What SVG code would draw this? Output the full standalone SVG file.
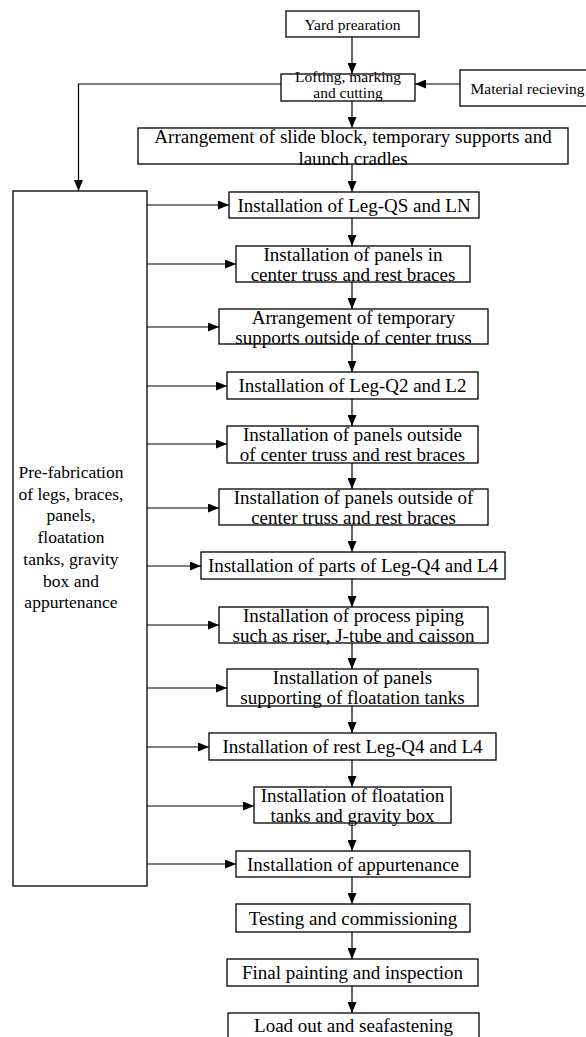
<svg xmlns="http://www.w3.org/2000/svg" width="586" height="1037" viewBox="0 0 586 1037">
<style>
.b{fill:#fff;stroke:#000;stroke-width:1.3}
.t{font-family:"Liberation Serif","Times New Roman",serif;font-size:19px;fill:#000;text-anchor:middle}
.s{font-size:15.5px}
.p{font-size:17.5px}
.c{fill:none;stroke:#000;stroke-width:1.2;marker-end:url(#ah)}
</style>
<defs>
<marker id="ah" markerUnits="userSpaceOnUse" markerWidth="11" markerHeight="9" refX="11" refY="4.5" orient="auto">
<path d="M0,0 L11,4.5 L0,9 z" fill="#000"/>
</marker>
</defs>
<rect width="586" height="1037" fill="#fff"/>
<g id="connectors">
<path class="c" d="M352,37 V74"/>
<path class="c" d="M460,84 H415"/>
<path class="c" d="M281,84 H78.5 V191"/>
<path class="c" d="M352,101 V128"/>
<path class="c" d="M352,164 V192"/>
<path class="c" d="M352,218 V246"/>
<path class="c" d="M352,282 V309"/>
<path class="c" d="M352,344 V372"/>
<path class="c" d="M352,399 V426"/>
<path class="c" d="M352,463 V489"/>
<path class="c" d="M352,525 V552"/>
<path class="c" d="M352,579 V607"/>
<path class="c" d="M352,643 V669"/>
<path class="c" d="M352,706 V733"/>
<path class="c" d="M352,760 V787"/>
<path class="c" d="M352,823 V851"/>
<path class="c" d="M352,877 V904"/>
<path class="c" d="M352,932 V959"/>
<path class="c" d="M352,986 V1013"/>
<path class="c" d="M147,205 H229"/>
<path class="c" d="M147,264 H236"/>
<path class="c" d="M147,327 H219"/>
<path class="c" d="M147,386 H227"/>
<path class="c" d="M147,444 H227"/>
<path class="c" d="M147,508 H219"/>
<path class="c" d="M147,566 H201"/>
<path class="c" d="M147,625 H219"/>
<path class="c" d="M147,688 H227"/>
<path class="c" d="M147,747 H209"/>
<path class="c" d="M147,806 H254"/>
<path class="c" d="M147,864 H236"/>
</g>
<g id="yard"><rect class="b" x="286" y="11" width="133" height="26"/><text class="t s" x="352.5" y="29.5">Yard prearation</text></g>
<g id="lofting"><rect class="b" x="281" y="74" width="134" height="27"/><text class="t s" x="348" y="82">Lofting, marking</text><text class="t s" x="348" y="98">and cutting</text></g>
<g id="material"><rect class="b" x="460" y="70" width="140" height="36"/><text class="t s" x="527.5" y="93.5">Material recieving</text></g>
<g id="arrangement"><rect class="b" x="138" y="128" width="430" height="36"/><text class="t" x="353" y="143">Arrangement of slide block, temporary supports and</text><text class="t" x="353" y="165">launch cradles</text></g>
<g id="prefab"><rect class="b" x="13" y="191" width="134" height="695"/>
<text class="t p" x="71" y="478">Pre-fabrication</text>
<text class="t p" x="71" y="499.7">of legs, braces,</text>
<text class="t p" x="71" y="521.4">panels,</text>
<text class="t p" x="71" y="543.1">floatation</text>
<text class="t p" x="71" y="564.8">tanks, gravity</text>
<text class="t p" x="71" y="586.5">box and</text>
<text class="t p" x="71" y="608.2">appurtenance</text></g>
<g id="legqs"><rect class="b" x="229" y="192" width="250" height="26"/><text class="t" x="354" y="211.5">Installation of Leg-QS and LN</text></g>
<g id="panels-center"><rect class="b" x="236" y="246" width="234" height="36"/><text class="t" x="353" y="260.5">Installation of panels in</text><text class="t" x="353" y="281">center truss and rest braces</text></g>
<g id="temp-supports"><rect class="b" x="219" y="309" width="269" height="35"/><text class="t" x="353.5" y="323.5">Arrangement of temporary</text><text class="t" x="353.5" y="343.5">supports outside of center truss</text></g>
<g id="legq2"><rect class="b" x="227" y="372" width="251" height="27"/><text class="t" x="352.5" y="392">Installation of Leg-Q2 and L2</text></g>
<g id="panels-outside-1"><rect class="b" x="227" y="426" width="251" height="37"/><text class="t" x="352.5" y="440.5">Installation of panels outside</text><text class="t" x="352.5" y="461">of center truss and rest braces</text></g>
<g id="panels-outside-2"><rect class="b" x="219" y="489" width="269" height="36"/><text class="t" x="353.5" y="503.5">Installation of panels outside of</text><text class="t" x="353.5" y="524">center truss and rest braces</text></g>
<g id="parts-q4"><rect class="b" x="201" y="552" width="304" height="27"/><text class="t" x="353" y="572">Installation of parts of Leg-Q4 and L4</text></g>
<g id="piping"><rect class="b" x="219" y="607" width="269" height="36"/><text class="t" x="353.5" y="621.5">Installation of process piping</text><text class="t" x="353.5" y="642">such as riser, J-tube and caisson</text></g>
<g id="panels-supporting"><rect class="b" x="227" y="669" width="251" height="37"/><text class="t" x="352.5" y="683.5">Installation of panels</text><text class="t" x="352.5" y="704">supporting of floatation tanks</text></g>
<g id="rest-q4"><rect class="b" x="209" y="733" width="287" height="27"/><text class="t" x="352.5" y="753">Installation of rest Leg-Q4 and L4</text></g>
<g id="floatation"><rect class="b" x="254" y="787" width="197" height="36"/><text class="t" x="352.5" y="801.5">Installation of floatation</text><text class="t" x="352.5" y="822">tanks and gravity box</text></g>
<g id="appurtenance"><rect class="b" x="236" y="851" width="234" height="26"/><text class="t" x="353" y="870.5">Installation of appurtenance</text></g>
<g id="testing"><rect class="b" x="236" y="904" width="234" height="28"/><text class="t" x="353" y="924.5">Testing and commissioning</text></g>
<g id="final"><rect class="b" x="227" y="959" width="251" height="27"/><text class="t" x="352.5" y="979">Final painting and inspection</text></g>
<g id="loadout"><rect class="b" x="228" y="1013" width="251" height="32"/><text class="t" x="353.5" y="1032">Load out and seafastening</text></g>
</svg>
